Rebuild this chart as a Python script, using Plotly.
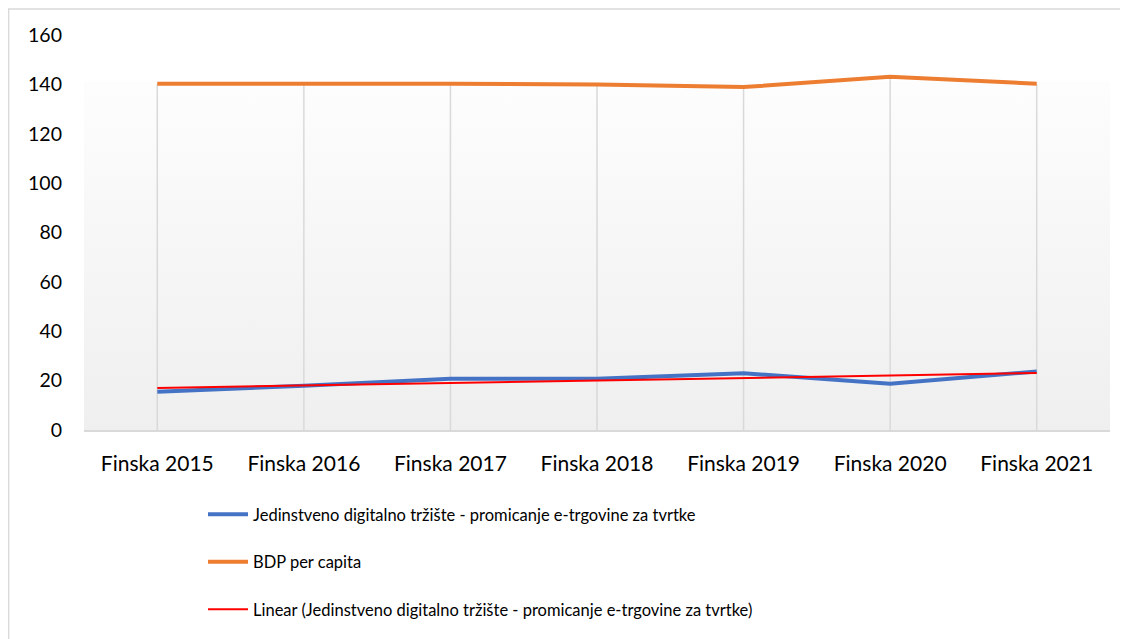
import numpy as np
import plotly.graph_objects as go

categories = ["Finska 2015", "Finska 2016", "Finska 2017", "Finska 2018",
              "Finska 2019", "Finska 2020", "Finska 2021"]
jdt_values = [15.5, 17.9, 20.8, 20.8, 23.0, 18.7, 23.7]
bdp_values = [140.3, 140.5, 140.3, 139.9, 138.9, 143.1, 140.3]
y_ticks = [0, 20, 40, 60, 80, 100, 120, 140, 160]
bg_top = 141.3

names = [
    "Jedinstveno digitalno tržište - promicanje e-trgovine za tvrtke",
    "BDP per capita",
    "Linear (Jedinstveno digitalno tržište - promicanje e-trgovine za tvrtke)",
]

colors = {"blue": "#4472c4", "orange": "#ed7d31", "red": "#ff0000", "grey": "#d9d9d9"}

x = np.arange(len(categories))
slope, intercept = np.polyfit(x, jdt_values, 1)
trend = slope * x + intercept

fig = go.Figure()

# plot-area gradient
fig.add_trace(go.Scatter(
    x=[x[0] - 0.5, x[-1] + 0.5], y=[bg_top, bg_top], mode="lines",
    line=dict(width=0), fill="tozeroy",
    fillgradient=dict(type="vertical", colorscale=[[0, "#efefef"], [1, "#fdfdfd"]]),
    showlegend=False, hoverinfo="skip"))

# drop lines from the orange series down to the axis
dx, dy = [], []
for xi, yi in zip(x, bdp_values):
    dx += [xi, xi, None]
    dy += [0, yi, None]
fig.add_trace(go.Scatter(x=dx, y=dy, mode="lines",
                         line=dict(color=colors["grey"], width=1.5),
                         showlegend=False, hoverinfo="skip"))

fig.add_trace(go.Scatter(x=x, y=jdt_values, mode="lines", name=names[0],
                         legendgroup="a",
                         line=dict(color=colors["blue"], width=4)))
fig.add_trace(go.Scatter(x=x, y=bdp_values, mode="lines", name=names[1],
                         legendgroup="b",
                         line=dict(color=colors["orange"], width=4)))
fig.add_trace(go.Scatter(x=x, y=trend, mode="lines", name=names[2],
                         legendgroup="c",
                         line=dict(color=colors["red"], width=2)))

# chart frame
fig.add_shape(type="rect", xref="paper", yref="paper",
              x0=-0.0735, x1=1.04, y0=-0.6, y1=1.066,
              line=dict(color=colors["grey"], width=1.5))

fig.update_layout(
    width=1120, height=631,
    margin=dict(l=76, r=18, t=27, b=202),
    paper_bgcolor="white", plot_bgcolor="white",
    font=dict(family="Lato", size=20, color="#000000"),
    showlegend=True,
    legend=dict(orientation="v", x=0.116, xanchor="left", y=-0.17, yanchor="top",
                font=dict(size=16.5), tracegroupgap=23, itemwidth=40,
                bgcolor="rgba(0,0,0,0)"),
)
fig.update_xaxes(range=[-0.5, len(categories) - 0.5], tickvals=x, ticktext=categories,
                 tickfont=dict(size=21),
                 showgrid=False, zeroline=False, showline=True,
                 linecolor=colors["grey"], linewidth=1.5, ticks="",
                 ticklabelstandoff=14)
fig.update_yaxes(range=[0, 160], tickvals=y_ticks, tickfont=dict(size=19.5),
                 showgrid=False, zeroline=False,
                 showline=False, ticks="", ticklabelstandoff=21)

fig.write_html("out.html")
